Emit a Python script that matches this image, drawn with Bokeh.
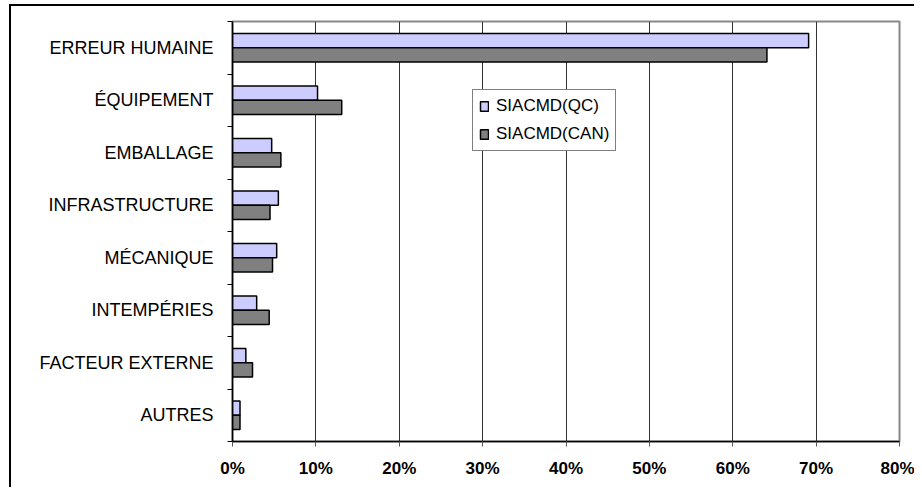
from bokeh.plotting import figure
from bokeh.models import FixedTicker, NumeralTickFormatter, Range1d, Legend, LegendItem, ColumnDataSource
from bokeh.embed import file_html
from bokeh.resources import INLINE

categories = ["ERREUR HUMAINE", "ÉQUIPEMENT", "EMBALLAGE", "INFRASTRUCTURE",
              "MÉCANIQUE", "INTEMPÉRIES", "FACTEUR EXTERNE", "AUTRES"]
qc_values = [0.691, 0.102, 0.047, 0.055, 0.053, 0.029, 0.016, 0.009]
can_values = [0.641, 0.131, 0.058, 0.045, 0.048, 0.044, 0.024, 0.009]
series_names = ["SIACMD(QC)", "SIACMD(CAN)"]
x_ticks = [0, 0.1, 0.2, 0.3, 0.4, 0.5, 0.6, 0.7, 0.8]

n = len(categories)
ypos = [n - i - 0.5 for i in range(n)]

src = ColumnDataSource(dict(
    y_qc=[y + 0.135 for y in ypos],
    y_can=[y - 0.135 for y in ypos],
    qc=qc_values, can=can_values,
))

FONT = "Liberation Sans"

p = figure(width=914, height=487, output_backend="svg", toolbar_location=None,
           x_range=Range1d(0, 0.8), y_range=Range1d(0, n),
           min_border_left=232, min_border_right=15, min_border_top=21, min_border_bottom=46)
p.border_fill_color = None
p.styles = {"background": "linear-gradient(#000,#000) 9px 4px / 2px 100% no-repeat, "
                          "linear-gradient(#000,#000) 9px 4px / 100% 2px no-repeat, #ffffff"}

r_qc = p.hbar(y="y_qc", left=0, right="qc", height=0.27, source=src,
              fill_color="#CCCCFF", line_color="black", line_width=1.5)
r_can = p.hbar(y="y_can", left=0, right="can", height=0.27, source=src,
               fill_color="#808080", line_color="black", line_width=1.5)

# x axis
p.xaxis.ticker = FixedTicker(ticks=x_ticks)
p.xaxis.formatter = NumeralTickFormatter(format="0%")
p.xaxis.major_label_text_font = FONT
p.xaxis.major_label_text_font_style = "bold"
p.xaxis.major_label_text_font_size = "17px"
p.xaxis.major_label_text_color = "black"
p.xaxis.major_label_standoff = 12
p.xaxis.major_tick_out = 5
p.xaxis.major_tick_in = 0
p.xaxis.minor_tick_line_color = None
p.xaxis.axis_line_color = "black"
p.xaxis.axis_line_width = 1.5
p.xaxis.major_tick_line_color = "#555555"

# y axis
p.yaxis.ticker = FixedTicker(ticks=ypos, minor_ticks=list(range(0, n + 1)))
p.yaxis.major_label_overrides = {y: c for y, c in zip(ypos, categories)}
p.yaxis.major_label_text_font = FONT
p.yaxis.major_label_text_font_size = "18px"
p.yaxis.major_label_text_color = "black"
p.yaxis.major_label_standoff = 13
p.yaxis.major_tick_line_color = None
p.yaxis.minor_tick_out = 5
p.yaxis.minor_tick_in = 0
p.yaxis.minor_tick_line_color = "black"
p.yaxis.axis_line_color = "black"
p.yaxis.axis_line_width = 1.5

# grid
p.xgrid.ticker = FixedTicker(ticks=x_ticks)
p.xgrid.grid_line_color = "#333333"
p.xgrid.grid_line_width = 1
p.ygrid.grid_line_color = None

p.outline_line_color = "#888888"
p.outline_line_width = 2
p.background_fill_color = "white"

legend = Legend(items=[LegendItem(label=series_names[0], renderers=[r_qc]),
                       LegendItem(label=series_names[1], renderers=[r_can])],
                location=(240, 290))
legend.label_text_font = FONT
legend.label_text_font_size = "17px"
legend.label_text_color = "black"
legend.glyph_width = 10
legend.glyph_height = 12
legend.label_standoff = 7
legend.label_height = 16
legend.spacing = 8
legend.padding = 6
legend.margin = 0
legend.border_line_color = "black"
legend.border_line_width = 1
legend.background_fill_alpha = 1
p.add_layout(legend)

open("out.html", "w").write(file_html(p, INLINE))
